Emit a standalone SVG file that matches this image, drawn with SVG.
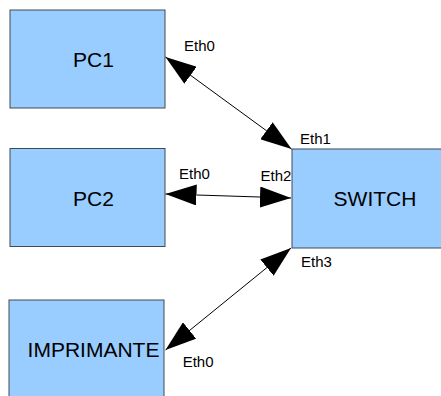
<svg xmlns="http://www.w3.org/2000/svg" width="441" height="396" viewBox="0 0 441 396">
  <style>
    .box { fill: #99ccff; stroke: #3f4a55; stroke-width: 1; }
    .lbl { font-family: "Liberation Sans", Arial, sans-serif; font-size: 21px; fill: #000; text-anchor: middle; }
    .port { font-family: "Liberation Sans", Arial, sans-serif; font-size: 15px; fill: #000; }
    .conn { stroke: #000; stroke-width: 1; fill: none; marker-start: url(#ah); marker-end: url(#ah); }
  </style>
  <defs>
    <marker id="ah" viewBox="0 0 31 21" markerWidth="31" markerHeight="21" markerUnits="userSpaceOnUse" refX="31" refY="10.5" orient="auto-start-reverse">
      <path d="M0,0 L31,10.5 L0,21 z" fill="#000"/>
    </marker>
  </defs>
  <rect width="441" height="396" fill="#ffffff"/>
  <g id="pc1">
    <rect class="box" x="10" y="10" width="155" height="98"/>
    <text class="lbl" x="93.5" y="67">PC1</text>
  </g>
  <g id="pc2">
    <rect class="box" x="10" y="148.5" width="155" height="98"/>
    <text class="lbl" x="93.5" y="205.5">PC2</text>
  </g>
  <g id="imprimante">
    <rect class="box" x="9" y="300" width="155" height="110"/>
    <text class="lbl" x="93.5" y="357">IMPRIMANTE</text>
  </g>
  <g id="switch">
    <rect class="box" x="292" y="149" width="166" height="99"/>
    <text class="lbl" x="375" y="206">SWITCH</text>
  </g>
  <g id="connectors">
    <line class="conn" x1="165.5" y1="57" x2="291.5" y2="149"/>
    <line class="conn" x1="165.5" y1="194" x2="291" y2="198"/>
    <line class="conn" x1="165.5" y1="350" x2="291" y2="248"/>
    <text class="port" x="184" y="51">Eth0</text>
    <text class="port" x="300" y="144.3">Eth1</text>
    <text class="port" x="179" y="179.3">Eth0</text>
    <text class="port" x="260.5" y="181">Eth2</text>
    <text class="port" x="301" y="266.7">Eth3</text>
    <text class="port" x="182.7" y="367.3">Eth0</text>
  </g>
</svg>
